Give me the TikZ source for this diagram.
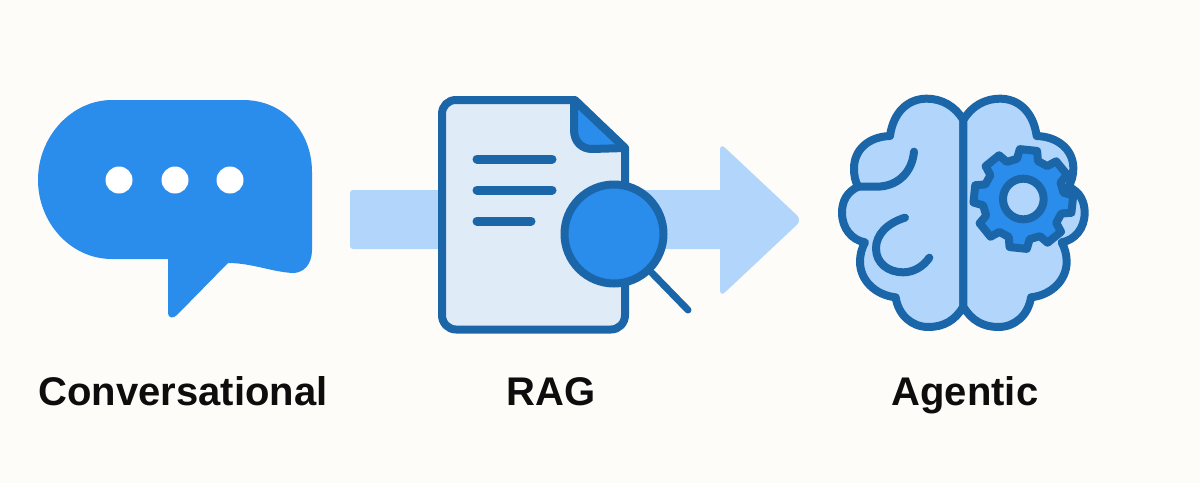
\documentclass[tikz,border=0pt]{standalone}
\usepackage{fontspec}
\setmainfont{Liberation Sans}
\definecolor{paper}{HTML}{FEFCF8}
\definecolor{azure}{HTML}{2A8CEB}
\definecolor{sky}{HTML}{B2D6FB}
\definecolor{pale}{HTML}{E0EBF8}
\definecolor{navy}{HTML}{1A66A8}
\tikzset{
  label text/.style={font=\bfseries\fontsize{40}{40}\selectfont, text=black!95, anchor=base, inner sep=0pt},
  outline/.style={draw=navy, line width=8pt, line join=round, line cap=round},
  thin outline/.style={draw=navy, line width=9pt, line cap=round},
}
\begin{document}
\begin{tikzpicture}[x=1pt,y=-1pt]
\path[use as bounding box, fill=paper] (0,0) rectangle (1200,483);

% chat bubble
\fill[azure] (112,100) -- (243,100)
  .. controls (283,100) and (312,131) .. (312,172)
  -- (312,250)
  .. controls (312,265) and (303,273) .. (293,273)
  .. controls (272,272) and (252,263) .. (228,263)
  -- (177,315)
  .. controls (173,319) and (168,318) .. (168,313)
  -- (168,259) -- (112,259)
  .. controls (70,259) and (38,222) .. (38,180)
  .. controls (38,136) and (72,100) .. (112,100) -- cycle;
\foreach \dx in {119,175,230}
  \fill[white] (\dx,180) circle[radius=13.5];

% arrow
\fill[sky, rounded corners=3pt] (350,190) rectangle (730,249);
\fill[sky, rounded corners=7pt] (720,143) -- (802,220) -- (720,297) -- cycle;

% document
\draw[outline, fill=pale] (456,100) -- (575,100) -- (625,148) -- (625,315)
  .. controls (625,323) and (619,329.5) .. (611,329.5)
  -- (456,329.5)
  .. controls (448,329.5) and (442,323) .. (442,315)
  -- (442,114)
  .. controls (442,106) and (448,100) .. (456,100) -- cycle;
\draw[outline, fill=azure] (574,100)
  -- (574,130) .. controls (574,142) and (582,149) .. (592,149)
  -- (625,148) -- cycle;
\foreach \ly/\lx in {159/552,190/552,221/531}
  \draw[thin outline] (477,\ly) -- (\lx,\ly);

% magnifier
\draw[draw=navy, line width=7pt, line cap=round] (652,273) -- (688,310);
\draw[draw=navy, fill=azure, line width=8pt] (614,234) circle[radius=49.5];

% brain
\begin{scope}[shift={(830,80)}, x=0.33333pt, y=-0.33333pt]
  \draw[outline, fill=sky] (400,120)
    .. controls (375,78) and (335,56) .. (290,56)
    .. controls (235,56) and (190,95) .. (180,168)
    .. controls (115,170) and (72,210) .. (72,265)
    .. controls (72,285) and (75,305) .. (85,320)
    .. controls (50,335) and (36,365) .. (36,398)
    .. controls (36,445) and (65,480) .. (105,487)
    .. controls (95,505) and (90,525) .. (90,545)
    .. controls (90,600) and (135,645) .. (197,652)
    .. controls (205,705) and (245,741) .. (295,741)
    .. controls (340,741) and (375,722) .. (400,680) -- cycle;
  \draw[outline, fill=sky] (400,120)
    .. controls (425,78) and (465,56) .. (510,56)
    .. controls (565,56) and (610,95) .. (620,168)
    .. controls (685,170) and (730,210) .. (730,265)
    .. controls (730,285) and (725,305) .. (715,320)
    .. controls (750,335) and (764,365) .. (764,398)
    .. controls (764,445) and (735,480) .. (695,487)
    .. controls (705,505) and (710,525) .. (710,545)
    .. controls (710,600) and (665,645) .. (603,652)
    .. controls (595,705) and (555,741) .. (505,741)
    .. controls (460,741) and (425,722) .. (400,680) -- cycle;
  \draw[outline] (252,215) .. controls (246,280) and (200,320) .. (140,320) -- (85,320);
  \draw[outline] (225,413) .. controls (170,430) and (138,465) .. (138,505)
    .. controls (138,550) and (175,577) .. (220,577)
    .. controls (250,577) and (280,560) .. (298,533);
  % gear
  \begin{scope}[shift={(580,357)}]
    \draw[outline, fill=azure] (-99:122)
      \foreach \a in {-84,-39,6,51,96,141,186,231} {
        -- (\a-15:122) -- (\a-10:150) -- (\a+10:150) -- (\a+15:122)
      } -- cycle;
    \draw[outline, fill=sky] (0,0) circle[radius=61];
  \end{scope}
\end{scope}

% labels
\node[label text] (conv) at (183,405) {Conversational};
\node[label text] (rag) at (551,405) {RAG};
\node[label text] (agent) at (965,405) {Agentic};
\end{tikzpicture}
\end{document}
